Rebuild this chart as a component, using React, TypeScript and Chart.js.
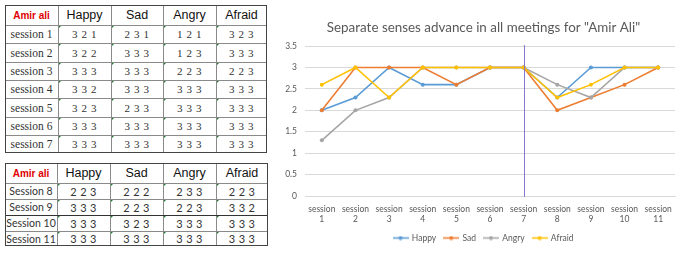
import React, { useEffect, useRef } from "react";
import { Chart, registerables } from "chart.js";
Chart.register(...registerables);

// ---------- data ----------
const emotions = ["Happy", "Sad", "Angry", "Afraid"];
const tableTitle = "Amir ali";
const table1Sessions = ["session 1", "session 2", "session 3", "session 4", "session 5", "session 6", "session 7"];
const table1Values = [
  ["3 2 1", "2 3 1", "1 2 1", "3 2 3"],
  ["3 2 2", "3 3 3", "1 2 3", "3 3 3"],
  ["3 3 3", "3 3 3", "2 2 3", "2 2 3"],
  ["3 3 2", "3 3 3", "3 3 3", "3 3 3"],
  ["3 2 3", "2 3 3", "3 3 3", "3 3 3"],
  ["3 3 3", "3 3 3", "3 3 3", "3 3 3"],
  ["3 3 3", "3 3 3", "3 3 3", "3 3 3"],
];
const table2Sessions = ["Session 8", "Session 9", "Session 10", "Session 11"];
const table2Values = [
  ["2 2 3", "2 2 2", "2 3 3", "2 2 3"],
  ["3 3 3", "2 2 3", "2 2 3", "3 3 2"],
  ["3 3 3", "3 2 3", "3 3 3", "3 3 3"],
  ["3 3 3", "3 3 3", "3 3 3", "3 3 3"],
];

const chartTitle = 'Separate senses advance in all meetings for "Amir Ali"';
const categories = [
  ["session", "1"], ["session", "2"], ["session", "3"], ["session", "4"], ["session", "5"], ["session", "6"],
  ["session", "7"], ["session", "8"], ["session", "9"], ["session", "10"], ["session", "11"],
];
const happy = [2, 2.3, 3, 2.6, 2.6, 3, 3, 2.3, 3, 3, 3];
const sad = [2, 3, 3, 3, 2.6, 3, 3, 2, 2.3, 2.6, 3];
const angry = [1.3, 2, 2.3, 3, 3, 3, 3, 2.6, 2.3, 3, 3];
const afraid = [2.6, 3, 2.3, 3, 3, 3, 3, 2.3, 2.6, 3, 3];
const yMin = 0;
const yMax = 3.5;
const yStep = 0.5;
const markerCategory = 6; // "session 7"

// ---------- styles ----------
const seriesColors = ["#5b9bd5", "#ed7d31", "#a5a5a5", "#ffc000"];
const textGray = "#595959";

const t1Cols = [5, 58, 111, 163, 216, 267];
const t1Rows = [5, 25, 43, 62, 80, 98, 117, 135, 153];
const t2Cols = [5, 57, 110, 163, 216, 268];
const t2Rows = [163, 183, 199, 215, 231, 246];

function Tri() {
  return (
    <div
      style={{
        position: "absolute",
        left: 0,
        top: 0,
        width: 0,
        height: 0,
        borderTop: "4px solid #1f7a2a",
        borderRight: "4px solid transparent",
      }}
    />
  );
}

function Grid(props: {
  cols: number[];
  rows: number[];
  sessions: string[];
  values: string[][];
  labelFont: string;
  labelSize: number;
  valueFont: string;
  valueSize: number;
  valueSpacing: number;
  darkRowLines?: number[];
}) {
  const { cols, rows, sessions, values } = props;
  const cells: any[] = [];
  const x0 = cols[0];
  const y0 = rows[0];
  const W = cols[cols.length - 1] - x0;
  const H = rows[rows.length - 1] - y0;
  for (let c = 0; c < cols.length - 1; c++) {
    const isFirst = c === 0;
    cells.push(
      <div
        key={"h" + c}
        style={{
          position: "absolute",
          left: cols[c],
          top: rows[0],
          width: cols[c + 1] - cols[c],
          height: rows[1] - rows[0],
          display: "flex",
          alignItems: "center",
          justifyContent: "center",
          fontFamily: "'Liberation Sans', Arial, sans-serif",
          fontSize: isFirst ? 10 : 12.5,
          color: isFirst ? "#e00000" : "#111",
          fontWeight: isFirst ? 600 : 400,
        }}
      >
        {isFirst ? tableTitle : emotions[c - 1]}
      </div>
    );
  }
  for (let r = 0; r < sessions.length; r++) {
    const top = rows[r + 1];
    const h = rows[r + 2] - rows[r + 1];
    cells.push(
      <div
        key={"s" + r}
        style={{
          position: "absolute",
          left: cols[0],
          top,
          width: cols[1] - cols[0],
          height: h,
          display: "flex",
          alignItems: "center",
          justifyContent: "center",
          fontFamily: props.labelFont,
          fontSize: props.labelSize,
          color: "#333",
          whiteSpace: "nowrap",
        }}
      >
        {sessions[r]}
      </div>
    );
    for (let c = 0; c < 4; c++) {
      cells.push(
        <div
          key={"v" + r + "_" + c}
          style={{
            position: "absolute",
            left: cols[c + 1],
            top,
            width: cols[c + 2] - cols[c + 1],
            height: h,
            display: "flex",
            alignItems: "center",
            justifyContent: "center",
            fontFamily: props.valueFont,
            fontSize: props.valueSize,
            letterSpacing: props.valueSpacing,
            color: "#333",
            whiteSpace: "pre",
          }}
        >
          <Tri />
          {values[r][c]}
        </div>
      );
    }
  }
  const lines: any[] = [];
  for (let c = 1; c < cols.length - 1; c++) {
    lines.push(
      <div key={"vl" + c} style={{ position: "absolute", left: cols[c], top: y0, width: 1, height: H, background: "#8a8a8a" }} />
    );
  }
  for (let r = 1; r < rows.length - 1; r++) {
    const dark = props.darkRowLines && props.darkRowLines.includes(r);
    lines.push(
      <div
        key={"hl" + r}
        style={{ position: "absolute", left: x0, top: rows[r], width: W, height: 1, background: dark ? "#333" : "#8a8a8a" }}
      />
    );
  }
  lines.push(
    <div
      key="box"
      style={{ position: "absolute", left: x0, top: y0, width: W, height: H, border: "1px solid #444", boxSizing: "border-box" }}
    />
  );
  return (
    <>
      {cells}
      {lines}
    </>
  );
}

function legendMarker(color: string): HTMLCanvasElement {
  const c = document.createElement("canvas");
  c.width = 16;
  c.height = 5;
  const ctx = c.getContext("2d")!;
  ctx.strokeStyle = color;
  ctx.lineWidth = 1.5;
  ctx.beginPath();
  ctx.moveTo(0, 2.5);
  ctx.lineTo(16, 2.5);
  ctx.stroke();
  ctx.fillStyle = color;
  ctx.beginPath();
  ctx.arc(8, 2.5, 2, 0, Math.PI * 2);
  ctx.fill();
  return c;
}

function LineChart() {
  const ref = useRef<HTMLCanvasElement>(null);
  useEffect(() => {
    const canvas = ref.current!;
    Chart.defaults.font.family = "Lato, 'Liberation Sans', sans-serif";
    const series = [happy, sad, angry, afraid];
    const markerPlugin = {
      id: "markerLine",
      afterDatasetsDraw(chart: any) {
        const { ctx, chartArea, scales } = chart;
        const x = Math.round(scales.x.getPixelForValue(markerCategory)) + 0.5;
        ctx.save();
        ctx.strokeStyle = "#8a76cc";
        ctx.lineWidth = 1;
        ctx.beginPath();
        ctx.moveTo(x, chartArea.top - 1);
        ctx.lineTo(x, chartArea.bottom + 1);
        ctx.stroke();
        ctx.restore();
      },
    };
    const chart = new Chart(canvas, {
      type: "line",
      data: {
        labels: categories as any,
        datasets: series.map((d, i) => ({
          label: emotions[i],
          data: d,
          borderColor: seriesColors[i],
          backgroundColor: seriesColors[i],
          borderWidth: 1.6,
          pointRadius: 2,
          pointBorderWidth: 0,
          pointHoverRadius: 2,
          tension: 0,
          fill: false,
          order: 4 - i,
          yAxisID: "y",
        })),
      },
      options: {
        animation: false,
        responsive: false,
        devicePixelRatio: 1,
        layout: { padding: { left: 0, right: 0, top: 0, bottom: 6.75 } },
        plugins: {
          title: {
            display: true,
            text: chartTitle,
            color: textGray,
            font: { size: 13.4, weight: "normal" as any },
            padding: { top: 20, bottom: 10 },
          },
          legend: {
            position: "bottom",
            labels: {
              color: textGray,
              font: { size: 8.5 },
              usePointStyle: true,
              pointStyleWidth: 14,
              padding: 8,
              generateLabels: (ch: any) =>
                ch.data.datasets.map((ds: any, i: number) => ({
                  text: ds.label,
                  fillStyle: seriesColors[i],
                  strokeStyle: seriesColors[i],
                  lineWidth: 0,
                  pointStyle: legendMarker(seriesColors[i]),
                  hidden: false,
                  datasetIndex: i,
                  fontColor: textGray,
                })),
            },
          },
          tooltip: { enabled: false },
        },
        scales: {
          x: {
            offset: true,
            grid: { display: false, drawTicks: false },
            border: { display: true, color: "#d9d9d9" },
            ticks: { color: textGray, font: { size: 8.5 }, maxRotation: 0, autoSkip: false, padding: 8 },
            afterFit: (s: any) => {
              s.height = 29.75;
            },
          },
          y: {
            min: yMin,
            max: yMax,
            grid: { color: "#d9d9d9", drawTicks: false },
            border: { display: false },
            ticks: {
              stepSize: yStep,
              color: textGray,
              font: { size: 8.5 },
              padding: 8,
              callback: (v: any) => String(v),
            },
            afterFit: (s: any) => {
              s.width = 35;
            },
          },
          yRight: {
            position: "right",
            display: true,
            grid: { display: false, drawTicks: false },
            border: { display: false },
            ticks: { display: false },
            afterFit: (s: any) => {
              s.width = 22;
            },
          },
        },
      },
      plugins: [markerPlugin],
    });
    return () => chart.destroy();
  }, []);
  return <canvas ref={ref} width={427} height={259} style={{ position: "absolute", left: 270, top: 0, width: 427, height: 259 }} />;
}

export default function App() {
  return (
    <div style={{ position: "fixed", left: 0, top: 0, width: 697, height: 259, background: "#fff", overflow: "hidden" }}>
      <Grid
        cols={t1Cols}
        rows={t1Rows}
        sessions={table1Sessions}
        values={table1Values}
        labelFont="'Liberation Serif', 'Times New Roman', serif"
        labelSize={11.5}
        valueFont="'Liberation Serif', 'Times New Roman', serif"
        valueSize={11}
        valueSpacing={0.6}
      />
      <Grid
        cols={t2Cols}
        rows={t2Rows}
        sessions={table2Sessions}
        values={table2Values}
        labelFont="Lato, 'Liberation Sans', sans-serif"
        labelSize={10.5}
        valueFont="Lato, 'Liberation Sans', sans-serif"
        valueSize={11}
        valueSpacing={0.3}
        darkRowLines={[3]}
      />
      <LineChart />
    </div>
  );
}
